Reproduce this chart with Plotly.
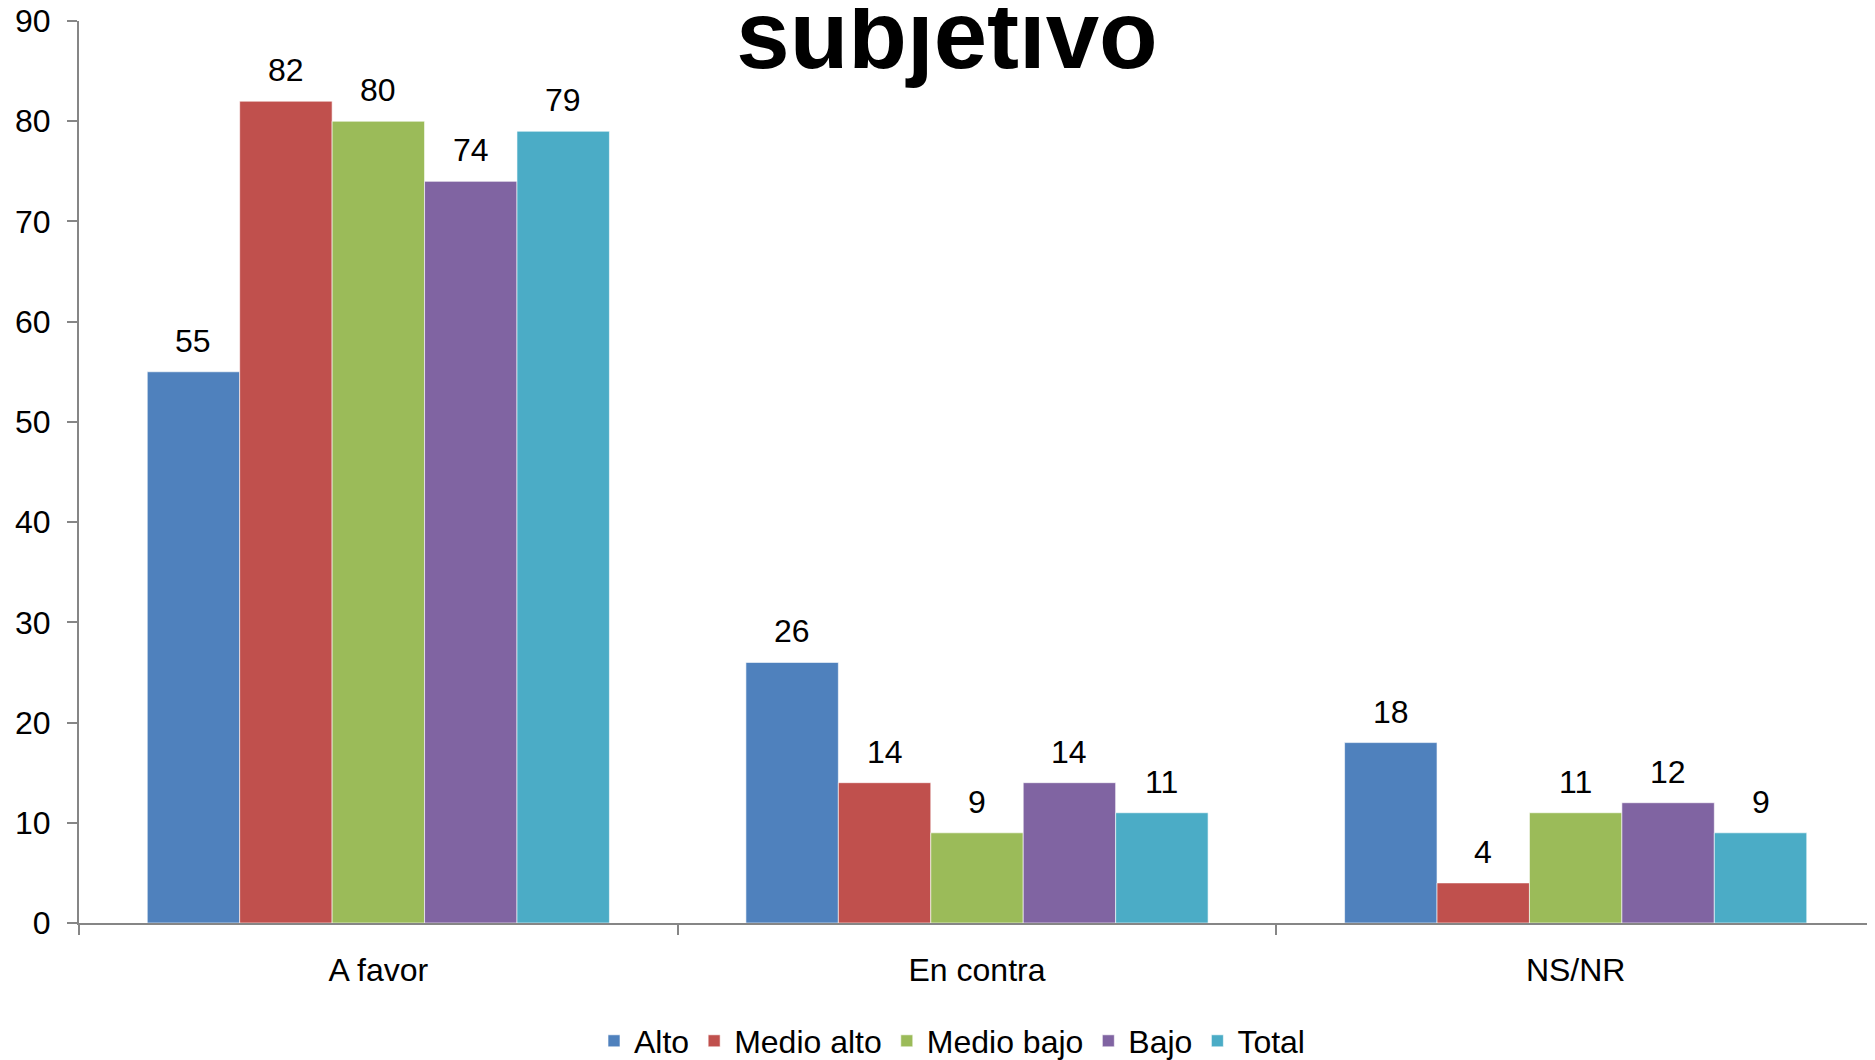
import plotly.graph_objects as go

categories = ["A favor", "En contra", "NS/NR"]
series_names = ["Alto", "Medio alto", "Medio bajo", "Bajo", "Total"]
alto = [55, 26, 18]
medio_alto = [82, 14, 4]
medio_bajo = [80, 9, 11]
bajo = [74, 14, 12]
total = [79, 11, 9]
colors = ["#4F81BD", "#C0504D", "#9BBB59", "#8064A2", "#4BACC6"]
y_ticks = [0, 10, 20, 30, 40, 50, 60, 70, 80, 90]

FONT = "Arial, Liberation Sans, sans-serif"
# page body has an 8px default margin; size the figure to fill the rest
W, H = 1867, 1052
ML, MR, MT, MB = 71, 0, 13, 137
BARGAP = 0.228

all_series = [alto, medio_alto, medio_bajo, bajo, total]

fig = go.Figure()
for name, vals, col in zip(series_names, all_series, colors):
    fig.add_trace(go.Bar(
        name=name, x=categories, y=vals,
        marker=dict(color=col, line=dict(color="rgba(255,255,255,0.6)", width=1)),
        hoverinfo="x+y+name",
    ))

# data labels placed above each bar
cat_px = (W - ML - MR) / len(categories)
bar_px = cat_px * (1 - BARGAP) / len(series_names)
n = len(series_names)
for i, vals in enumerate(all_series):
    for c, v in zip(categories, vals):
        fig.add_annotation(x=c, y=v, xref="x", yref="y", text=str(v),
                           showarrow=False, yanchor="bottom",
                           xshift=(i - (n - 1) / 2) * bar_px, yshift=11,
                           font=dict(family=FONT, size=32, color="black"))

fig.update_layout(
    width=W, height=H,
    paper_bgcolor="white", plot_bgcolor="white",
    barmode="group", bargap=BARGAP, bargroupgap=0,
    margin=dict(l=ML, r=MR, t=MT, b=MB, autoexpand=False),
    title=dict(text="<b>subjetivo</b>", x=939 / W, xanchor="center",
               y=1 - 26 / H, yanchor="middle", yref="container",
               font=dict(family=FONT, size=96, color="black")),
    font=dict(family=FONT, size=32, color="black"),
    legend=dict(orientation="h", x=944 / W, xanchor="center", xref="container",
                y=1 - 1033 / H, yanchor="middle", yref="container",
                font=dict(family=FONT, size=32, color="black"),
                itemclick=False, traceorder="normal"),
    showlegend=True,
)
fig.update_yaxes(range=[0, 90], tickvals=y_ticks, showgrid=False, zeroline=False,
                 showline=True, linecolor="#868686", linewidth=2,
                 ticks="outside", ticklen=10, tickcolor="#868686", tickwidth=2,
                 tickfont=dict(family=FONT, size=32, color="black"),
                 ticklabelstandoff=10, ticklabeloverflow="allow", automargin=False)
fig.update_xaxes(showgrid=False, showline=True, linecolor="#868686", linewidth=2,
                 ticks="outside", ticklen=10, tickcolor="#868686", tickwidth=2,
                 tickson="boundaries",
                 tickfont=dict(family=FONT, size=32, color="black"),
                 ticklabelstandoff=18, ticklabeloverflow="allow", automargin=False)

fig.write_html("out.html")
